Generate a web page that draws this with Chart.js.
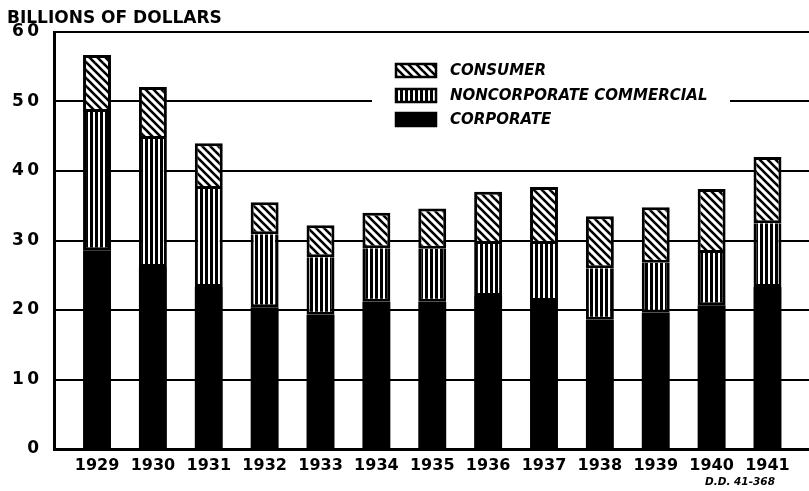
<!DOCTYPE html>
<html>
<head>
<meta charset="utf-8">
<script src="https://cdn.jsdelivr.net/npm/chart.js@4.4.1/dist/chart.umd.min.js"></script>
<style>
  html, body { margin: 0; padding: 0; background: #fff; }
  #wrap { width: 809px; height: 491px; }
</style>
</head>
<body>
<div id="wrap"><canvas id="chart" width="809" height="491"></canvas></div>
<script>
const years = [1929, 1930, 1931, 1932, 1933, 1934, 1935, 1936, 1937, 1938, 1939, 1940, 1941];
const corporate = [28.6, 26.2, 23.3, 20.4, 19.3, 21.2, 21.2, 22.0, 21.3, 18.6, 19.6, 20.7, 23.3];
const noncorporate = [19.9, 18.4, 14.1, 10.5, 8.3, 7.7, 7.6, 7.5, 8.2, 7.4, 7.2, 7.5, 9.2];
const consumer = [8.2, 7.5, 6.6, 4.6, 4.6, 5.1, 5.8, 7.5, 8.2, 7.5, 8.0, 9.2, 9.5];
const yTicks = [0, 10, 20, 30, 40, 50, 60];

const seriesLabels = ['CONSUMER', 'NONCORPORATE COMMERCIAL', 'CORPORATE'];

// fill patterns like the printed hatching
function hatchPattern() {
    const c = document.createElement('canvas');
    c.width = 8; c.height = 8;
    const g = c.getContext('2d');
    g.fillStyle = '#fff';
    g.fillRect(0, 0, 8, 8);
    g.strokeStyle = '#000';
    g.lineWidth = 2.6;
    [-8, 0, 8].forEach(o => {
        g.beginPath();
        g.moveTo(o - 1, -1);
        g.lineTo(o + 9, 9);
        g.stroke();
    });
    return g.createPattern(c, 'repeat');
}

function stripePattern() {
    const c = document.createElement('canvas');
    c.width = 5; c.height = 4;
    const g = c.getContext('2d');
    g.fillStyle = '#000';
    g.fillRect(0, 0, 5, 4);
    g.fillStyle = '#fff';
    g.fillRect(3, 0, 2, 4);
    return g.createPattern(c, 'repeat');
}

const ctx = document.getElementById('chart').getContext('2d');
const hatch = hatchPattern();
const stripes = stripePattern();
const fills = [hatch, stripes, '#000'];

const textFont = 'DejaVu Sans';

const extras = {
    id: 'extras',
    afterDraw(chart) {
        const c = chart.ctx;
        c.save();
        // axis title
        c.fillStyle = '#000';
        c.font = 'bold 17px ' + textFont;
        c.textBaseline = 'middle';
        c.textAlign = 'left';
        c.fillText('BILLIONS OF DOLLARS', 7, 19);

        // legend box
        c.fillStyle = '#fff';
        c.fillRect(372, 56, 358, 76);
        const rows = [70, 95, 119];
        seriesLabels.forEach((lab, i) => {
            const y = rows[i];
            c.fillStyle = fills[i];
            c.fillRect(395, y - 7, 42, 15);
            c.strokeStyle = '#000';
            c.lineWidth = 2.5;
            c.strokeRect(396, y - 6, 40, 13);
            c.fillStyle = '#000';
            c.font = 'italic bold 15px ' + textFont;
            c.textAlign = 'left';
            c.fillText(lab, 450, y + 1);
        });

        // plate number
        c.font = 'italic bold 10.5px ' + textFont;
        c.textAlign = 'left';
        c.fillText('D.D. 41-368', 705, 482);
        c.restore();
    }
};

new Chart(ctx, {
    type: 'bar',
    data: {
        datasets: [
            {
                label: seriesLabels[2],
                data: years.map((yr, i) => ({ x: yr, y: corporate[i] })),
                backgroundColor: '#000',
                borderWidth: 0
            },
            {
                label: seriesLabels[1],
                data: years.map((yr, i) => ({ x: yr, y: noncorporate[i] })),
                backgroundColor: stripes,
                borderColor: '#000',
                borderWidth: 3,
                borderSkipped: 'end'
            },
            {
                label: seriesLabels[0],
                data: years.map((yr, i) => ({ x: yr, y: consumer[i] })),
                backgroundColor: hatch,
                borderColor: '#000',
                borderWidth: 3,
                borderSkipped: false
            }
        ]
    },
    options: {
        responsive: false,
        animation: false,
        layout: { padding: { top: 32, right: 0, left: 0, bottom: 0 } },
        barPercentage: 0.5,
        categoryPercentage: 1,
        plugins: {
            legend: { display: false },
            tooltip: { enabled: false },
            title: { display: false }
        },
        scales: {
            x: {
                type: 'linear',
                stacked: true,
                offset: false,
                min: 1928.23,
                max: 1941.743,
                grid: { display: false, offset: false, drawTicks: false },
                border: { display: true, color: '#000', width: 3 },
                afterBuildTicks(scale) {
                    scale.ticks = years.map(v => ({ value: v }));
                },
                afterFit(scale) { scale.height = 42; },
                ticks: {
                    autoSkip: false,
                    maxRotation: 0,
                    padding: 7,
                    color: '#000',
                    font: { family: textFont, size: 16, weight: 'bold' },
                    callback: v => String(v)
                }
            },
            y: {
                stacked: true,
                min: 0,
                max: 60,
                afterBuildTicks(scale) {
                    scale.ticks = yTicks.map(v => ({ value: v }));
                },
                afterFit(scale) { scale.width = 54; },
                grid: { color: '#000', lineWidth: 2, drawTicks: false },
                border: { display: true, color: '#000', width: 3 },
                ticks: {
                    padding: 15,
                    color: '#000',
                    font: { family: textFont, size: 17, weight: 'bold' },
                    callback: v => String(v).split('').join('\u2009')
                }
            }
        }
    },
    plugins: [extras]
});
</script>
</body>
</html>
